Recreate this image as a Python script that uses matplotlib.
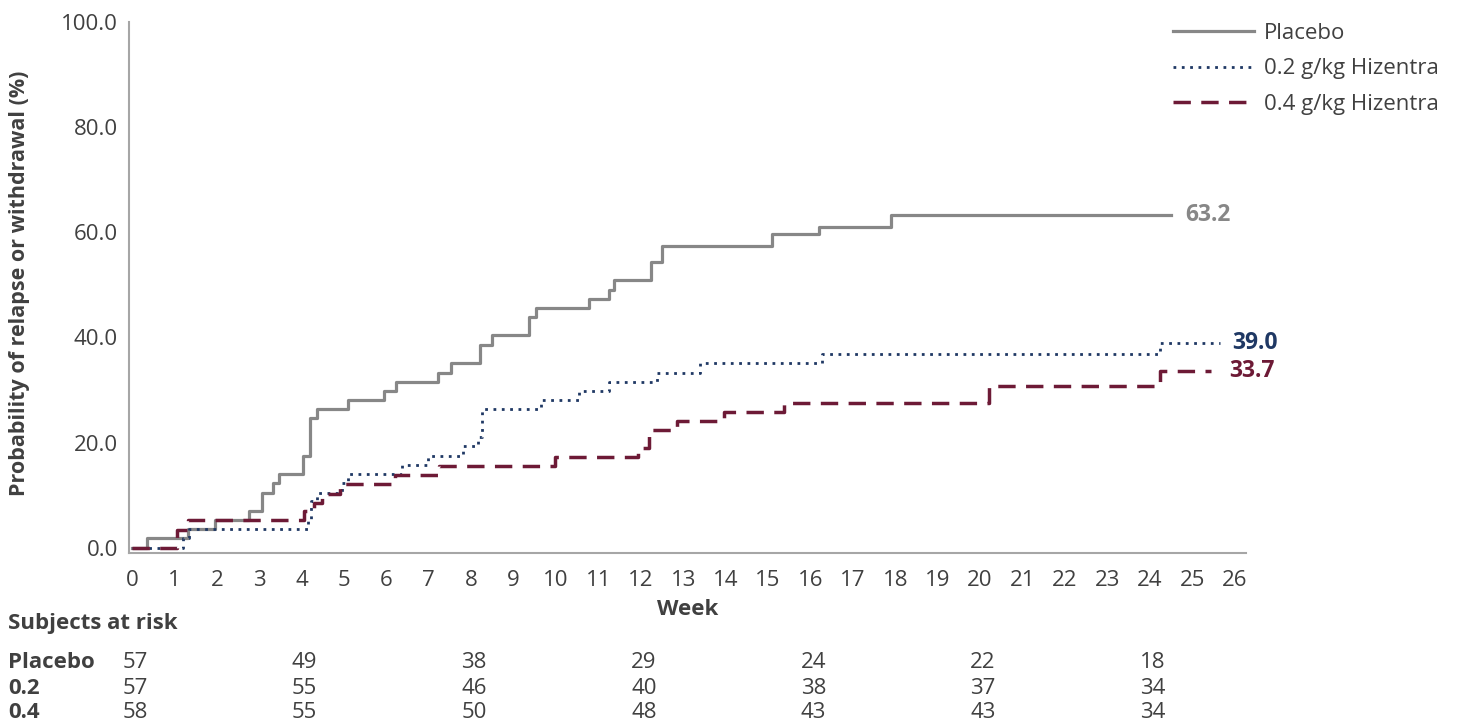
import matplotlib
matplotlib.use("Agg")
import matplotlib.pyplot as plt
import matplotlib.transforms as mtransforms

plt.rcParams['font.family'] = ['Open Sans', 'DejaVu Sans']

# Kaplan-Meier steps (week, cumulative %)
weeks_placebo = [0, 0.35, 1.32, 1.96, 2.76, 3.07, 3.33, 3.47, 4.04, 4.2, 4.36, 5.1, 5.94, 6.22,
                 7.22, 7.52, 8.21, 8.5, 9.36, 9.52, 10.78, 11.25, 11.37, 12.24, 12.5, 15.1,
                 16.2, 17.9, 24.5]
prob_placebo = [0, 1.8, 3.5, 5.3, 7.0, 10.5, 12.3, 14.0, 17.5, 24.6, 26.3, 28.1, 29.8, 31.6,
                33.3, 35.1, 38.6, 40.4, 43.9, 45.6, 47.4, 49.1, 50.9, 54.3, 57.3, 59.7,
                61.1, 63.2, 63.2]

weeks_02 = [0, 1.2, 1.35, 4.15, 4.22, 4.36, 4.95, 5.1, 6.36, 6.98, 7.8, 8.15, 8.25, 9.65,
            10.54, 11.25, 12.38, 13.4, 16.27, 24.25, 25.65]
prob_02 = [0, 1.8, 3.5, 5.3, 8.8, 10.5, 12.3, 14.0, 15.8, 17.5, 19.3, 21.1, 26.3, 28.1,
           29.8, 31.6, 33.3, 35.1, 36.8, 39.0, 39.0]

weeks_04 = [0, 1.05, 1.33, 4.06, 4.28, 4.47, 4.9, 6.2, 7.24, 9.98, 11.93, 12.2, 12.85,
            13.96, 15.38, 20.2, 24.25, 25.45]
prob_04 = [0, 3.4, 5.2, 6.9, 8.6, 10.3, 12.1, 13.8, 15.5, 17.2, 19.0, 22.4, 24.1,
           25.9, 27.6, 30.8, 33.7, 33.7]

final_labels = ['63.2', '39.0', '33.7']
series_names = ['Placebo', '0.2 g/kg Hizentra', '0.4 g/kg Hizentra']

# subjects at risk
risk_weeks = [0, 4, 8, 12, 16, 20, 24]
risk_rows = ['Placebo', '0.2', '0.4']
risk_placebo = [57, 49, 38, 29, 24, 22, 18]
risk_02 = [57, 55, 46, 40, 38, 37, 34]
risk_04 = [58, 55, 50, 48, 43, 43, 34]

c_placebo = '#878787'
c_02 = '#1f3864'
c_04 = '#6d1a36'
c_text = '#404040'

fig = plt.figure(figsize=(14.6, 7.24), dpi=100)
ax = fig.add_axes([0.0884, 0.2362, 0.765, 0.7334])

ax.step(weeks_placebo, prob_placebo, where='post', color=c_placebo, lw=2.3,
        label=series_names[0])
ax.step(weeks_02, prob_02, where='post', color=c_02, lw=2.0, linestyle=(0, (1, 2)),
        label=series_names[1])
ax.step(weeks_04, prob_04, where='post', color=c_04, lw=2.5, linestyle=(0, (5, 3)),
        label=series_names[2])

# final values
ends = [(weeks_placebo, prob_placebo, c_placebo, 0.33), (weeks_02, prob_02, c_02, 0.3),
        (weeks_04, prob_04, c_04, 0.42)]
for (wx, py, col, off), txt in zip(ends, final_labels):
    ax.text(wx[-1] + off, py[-1], txt, color=col, fontsize=16.5, fontweight='bold',
            ha='left', va='center')

ax.set_xlim(-0.07, 26.27)
ax.set_ylim(-1, 100)
ax.set_xticks(range(0, 27))
ax.set_yticks([0, 20, 40, 60, 80, 100])
ax.set_yticklabels([f'{v:.1f}' for v in [0, 20, 40, 60, 80, 100]])
ax.tick_params(length=0, labelsize=16, labelcolor=c_text)
ax.tick_params(axis='x', pad=12)
ax.tick_params(axis='y', pad=8)
for s in ['top', 'right']:
    ax.spines[s].set_visible(False)
for s in ['left', 'bottom']:
    ax.spines[s].set_color('#a6a6a6')
    ax.spines[s].set_linewidth(1.5)

ax.set_xlabel('Week', fontsize=16, fontweight='bold', color=c_text, labelpad=6)
fig.text(20 / 1460, 0.608, 'Probability of relapse or withdrawal (%)', rotation=90,
         fontsize=15.5, fontweight='bold', color=c_text, ha='center', va='center')

ax.legend(loc='upper left', bbox_to_anchor=(1173 / 1460, 1 - 23 / 724),
          bbox_transform=fig.transFigure, frameon=False, fontsize=16,
          handlelength=3.65, handletextpad=0.45, labelspacing=0.65,
          borderpad=0, borderaxespad=0, labelcolor=c_text)

# at-risk table
fig.text(8 / 1460, 1 - 623 / 724, 'Subjects at risk', fontsize=16, fontweight='bold',
         color=c_text, va='center')
trans = mtransforms.blended_transform_factory(ax.transData, fig.transFigure)
row_y = [663, 688, 712]
for name, vals, yy in zip(risk_rows, [risk_placebo, risk_02, risk_04], row_y):
    fig.text(8 / 1460, 1 - yy / 724, name, fontsize=16, fontweight='bold',
             color=c_text, va='center')
    for wk, v in zip(risk_weeks, vals):
        ax.text(wk + 0.07, 1 - yy / 724, str(v), transform=trans, fontsize=16,
                color=c_text, ha='center', va='center', clip_on=False)

fig.savefig('out.png', dpi=100)
